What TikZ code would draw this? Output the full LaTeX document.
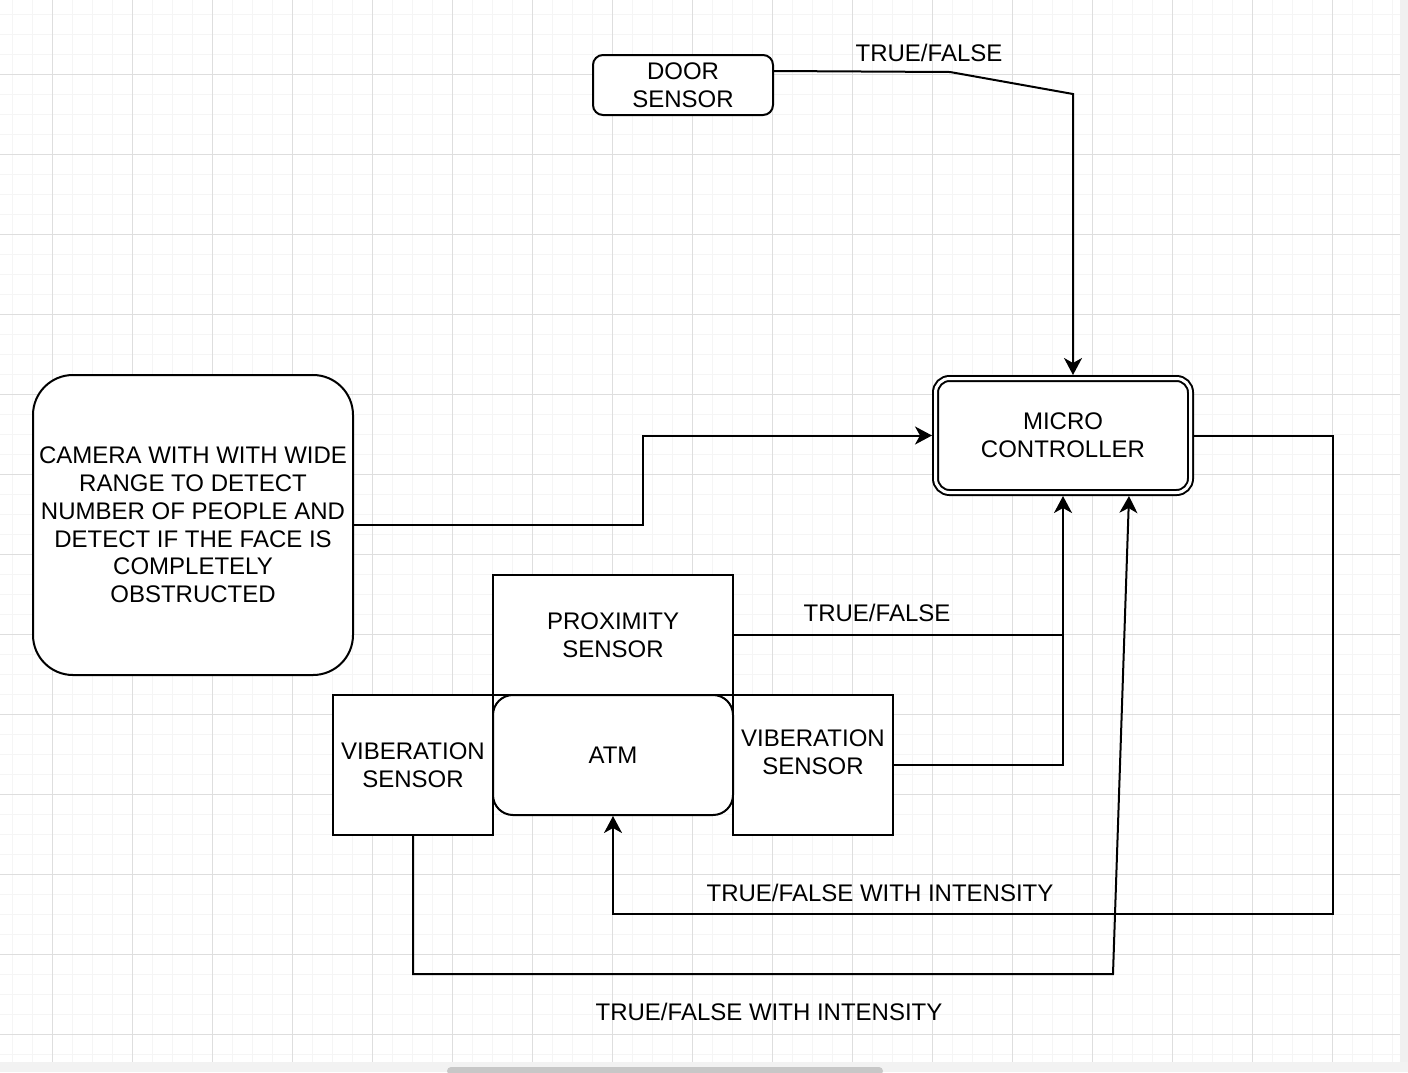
\documentclass[tikz,border=0pt]{standalone}
\usepackage{fontspec}
\setmainfont{Liberation Sans}
\usetikzlibrary{arrows.meta}

\begin{document}
\begin{tikzpicture}[x=0.5pt,y=-0.5pt,
  box/.style={draw, line width=1pt, fill=white, align=center, inner sep=0pt,
    font=\fontsize{12}{13.9}\selectfont},
  lbl/.style={font=\fontsize{12}{13.9}\selectfont, inner sep=0pt},
  link/.style={line width=1pt},
  arr/.style={link, -{Stealth[length=8.5pt,width=9pt,inset=2.5pt]}}]
\useasboundingbox (0,0) rectangle (1408,1072);
% grid paper
\fill[white] (0,0) rectangle (1408,1072);
\foreach \x in {12,32,...,1392} \draw[black!4, line width=0.5pt] (\x,0) -- (\x,1062);
\foreach \y in {14,34,...,1054} \draw[black!4, line width=0.5pt] (0,\y) -- (1400,\y);
\foreach \x in {52,132,...,1332} \draw[black!13, line width=0.5pt] (\x,0) -- (\x,1062);
\foreach \y in {74,154,...,1034} \draw[black!13, line width=0.5pt] (0,\y) -- (1400,\y);
\fill[black!6] (1400,0) rectangle (1408,1062);
\fill[black!5] (0,1062) rectangle (1408,1072);
\fill[black!22, rounded corners=2pt] (447,1067) rectangle (883,1075);
% blocks
\node[box, rounded corners=5pt, minimum width=90pt, minimum height=30pt] (door) at (683,85) {DOOR\\SENSOR};
\node[box, double, double distance=1.5pt, rounded corners=7pt, minimum width=127.5pt, minimum height=57pt, outer sep=1.75pt] (micro) at (1063,435.5) {MICRO\\CONTROLLER};
\node[box, rounded corners=20pt, minimum width=160pt, minimum height=150pt] (camera) at (193,525) {CAMERA WITH WITH WIDE\\RANGE TO DETECT\\NUMBER OF PEOPLE AND\\DETECT IF THE FACE IS\\COMPLETELY\\OBSTRUCTED};
\node[box, minimum width=120pt, minimum height=60pt] (prox) at (613,635) {PROXIMITY\\SENSOR};
\node[box, minimum width=80pt, minimum height=70pt] (vibl) at (413,765) {VIBERATION\\SENSOR};
\node[box, minimum width=80pt, minimum height=70pt, label={[lbl, align=center, yshift=6.5pt]center:{VIBERATION\\SENSOR}}] (vibr) at (813,765) {};
\node[box, rounded corners=10pt, minimum width=120pt, minimum height=60pt] (atm) at (613,755) {ATM};
% signals
\draw[arr] ([yshift=7pt]door.east) -- (950,72) -- (1073,94) -- (1073,94 |- micro.north);
\node[lbl] (tfdoor) at (929,53) {TRUE/FALSE};
\draw[arr] (camera.east) -| (643,480) |- (micro.west);
\draw[arr] (prox.east) -| (micro.south);
\node[lbl] (tfprox) at (877,613) {TRUE/FALSE};
\draw[link] (vibr.east) -| (1063,635);
\draw[arr] (micro.east) -| (1333,914) -| (atm.south);
\node[lbl] (tfatm) at (880,893) {TRUE/FALSE WITH INTENSITY};
\draw[arr] (vibl.south) |- (1113,974) -- ([xshift=33pt]micro.south);
\node[lbl] (tfvib) at (769,1012) {TRUE/FALSE WITH INTENSITY};
\end{tikzpicture}
\end{document}
